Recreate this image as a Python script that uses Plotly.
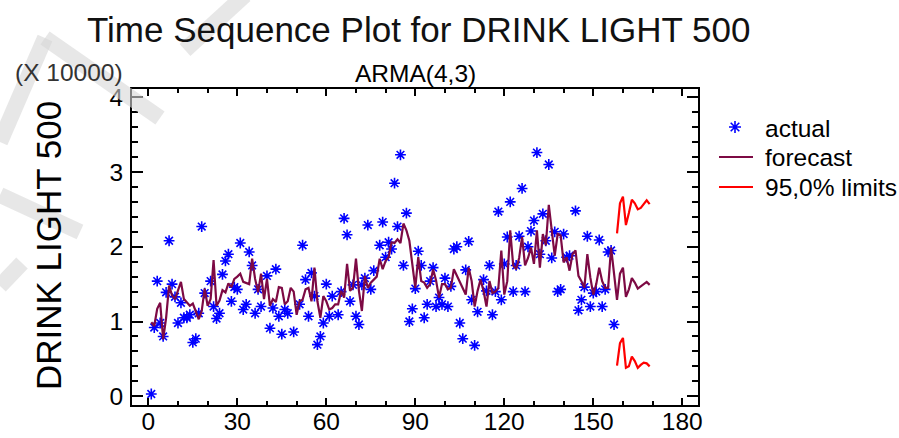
import plotly.graph_objects as go

# ---------------- data (values in units of 10000) ----------------
t_actual = list(range(1, 158))
actual = [
    0.03, 0.92, 1.54, 0.98, 0.80, 1.39, 2.08, 1.50, 1.33, 0.98,
    1.25, 1.05, 1.05, 1.09, 0.72, 0.77, 1.11, 2.27, 1.38, None,
    1.54, 1.20, 1.04, 1.11, 1.63, 1.81, 1.90, 1.27, 1.46, 1.43,
    2.05, 1.16, 1.23, 1.93, 1.75, 1.11, 1.43, 1.20, None, 1.61,
    0.91, 1.18, 1.70, 1.07, 0.83, 1.16, 1.11, None, 0.86, None,
    1.23, 2.02, 1.56, 1.07, 1.65, 1.34, 0.69, 0.80, 0.98, 1.50,
    1.07, 1.34, None, 1.09, 1.40, 2.38, 2.16, 1.27, 1.49, 1.07,
    0.96, 1.49, 1.58, 2.29, 1.43, 1.68, None, 2.02, 2.33, 1.86,
    2.06, 1.97, 2.85, 2.27, 3.23, 1.75, 2.45, 1.00, 1.17, 1.44,
    1.94, 1.75, 1.05, 1.23, 1.54, 1.72, 1.20, 1.32, 1.23, 1.58,
    1.20, 1.47, 1.97, 2.00, 0.98, 0.77, 1.69, 2.07, 1.29, 0.68,
    1.13, None, 1.56, 1.41, 1.75, 1.09, 1.40, 2.47, 1.29, 1.77,
    2.13, 2.60, 1.40, 1.75, 2.14, 2.78, 1.40, 2.00, 2.21, 2.35,
    3.26, 1.90, 2.44, 2.08, 3.10, 1.85, 2.20, 1.40, 1.43, 2.17,
    1.86, 1.88, None, 2.48, 1.15, 1.29, 1.46, 2.14, 1.20, 1.38,
    1.40, 2.09, 1.20, 1.43, 1.93, 1.95, 0.96,
]

t_forecast = list(range(1, 170))
forecast = [
    0.99, 0.94, 1.17, 1.25, 0.76, 1.05, 1.48, 1.35, 1.30, 1.42,
    1.53, 1.30, 1.26, 1.21, 1.24, 1.12, 1.03, 1.14, 1.44, 1.21,
    1.30, 1.82, 1.21, 1.28, 1.42, 1.39, 1.51, 1.46, 1.57, 1.60,
    1.64, 1.53, 1.51, 1.50, 1.84, 1.57, 1.39, 1.64, 1.30, 1.57,
    1.21, 1.30, 1.26, 1.46, 1.45, 1.23, 1.27, 1.45, 1.40, 1.09,
    1.27, 1.29, 1.43, 1.45, 1.27, 1.72, 1.27, 1.05, 1.34, 1.27,
    1.16, 1.18, 1.23, 1.23, 1.41, 1.32, 1.77, 1.41, 1.45, 1.84,
    1.41, 1.14, 1.61, 1.45, 1.52, 1.56, 1.60, 1.84, 1.70, 1.81,
    1.86, 2.06, 2.05, 2.10, 2.05, 2.31, 2.22, 2.08, 1.75, 1.45,
    1.86, 1.54, 1.52, 1.45, 1.50, 1.70, 1.55, 1.32, 1.50, 1.50,
    1.43, 1.45, 1.70, 1.61, 1.52, 1.45, 1.36, 1.72, 1.54, 1.20,
    1.41, 1.56, 1.41, 1.20, 1.54, 1.38, 1.40, 1.45, 1.95, 1.36,
    1.54, 2.22, 1.75, 1.70, 1.85, 2.13, 1.75, 1.85, 1.99, 1.77,
    2.22, 1.72, 2.17, 2.02, 2.56, 2.22, 1.88, 2.17, 2.15, 1.79,
    1.86, 1.68, 1.90, 1.95, 1.61, 1.54, 1.45, 1.90, 1.59, 1.36,
    1.50, 1.72, 1.54, 1.45, 1.45, 1.99, 1.60, 1.29, 1.64, 1.72,
    1.33, 1.43, 1.58, 1.52, 1.44, 1.47, 1.51, 1.53, 1.49,
]

t_limits = list(range(158, 170))
upper = [2.18, 2.58, 2.67, 2.29, 2.45, 2.63, 2.58, 2.50, 2.52, 2.57, 2.62, 2.57]
lower = [0.41, 0.71, 0.78, 0.38, 0.40, 0.53, 0.47, 0.38, 0.42, 0.45, 0.44, 0.40]

x_ticks = [0, 30, 60, 90, 120, 150, 180]
y_ticks = [0, 1, 2, 3, 4]
y_ticktext = ["0", "1", "2", "3", "4"]

title_text = "Time Sequence Plot for DRINK LIGHT 500"
subtitle_text = "ARMA(4,3)"
scale_text = "(X 10000)"
ytitle_text = "DRINK LIGHT 500"
legend_names = ["actual", "forecast", "95,0% limits"]

# ---------------- styling ----------------
W, H = 899, 438
L, R, T, B = 132, 698, 89, 405          # plot frame in pixels
FONT = "Liberation Sans, Arial, sans-serif"
BLUE = "#0000ff"
MAROON = "#7d0a44"
RED = "#ff0000"

def px(x):
    return (x - L) / (R - L)

def py(y):
    return (B - y) / (B - T)

fig = go.Figure()
fig.add_trace(go.Scatter(
    x=t_actual, y=actual, mode="markers", name=legend_names[0],
    marker=dict(symbol="asterisk-open", size=9, color=BLUE,
                line=dict(color=BLUE, width=1.6)),
    showlegend=False))
fig.add_trace(go.Scatter(
    x=t_forecast, y=forecast, mode="lines", name=legend_names[1],
    line=dict(color=MAROON, width=2.2), showlegend=False))
fig.add_trace(go.Scatter(
    x=t_limits, y=upper, mode="lines", name=legend_names[2],
    line=dict(color=RED, width=2.2), showlegend=False))
fig.add_trace(go.Scatter(
    x=t_limits, y=lower, mode="lines", name=legend_names[2],
    line=dict(color=RED, width=2.2), showlegend=False))

axis_common = dict(
    showgrid=False, zeroline=False, showline=True, linewidth=2,
    linecolor="black", mirror="ticks", ticks="inside", tickcolor="black",
    tickwidth=1.5, automargin=False,
    tickfont=dict(family=FONT, size=24.5, color="black"),
)
fig.update_xaxes(range=[-5.5, 185.3], tickvals=x_ticks, ticklen=7,
                 minor=dict(dtick=10, tick0=0, ticks="inside", ticklen=4,
                            tickwidth=1.5, tickcolor="black"),
                 ticklabelstandoff=-6, **axis_common)
fig.update_yaxes(range=[-0.117, 4.11], tickvals=y_ticks, ticktext=y_ticktext,
                 ticklen=11,
                 minor=dict(dtick=0.2, tick0=0, ticks="inside", ticklen=6,
                            tickwidth=1.5, tickcolor="black"),
                 ticklabelstandoff=2, **axis_common)

annotations = [
    dict(text=title_text, x=px(418), y=py(29.5), xanchor="center", yanchor="middle",
         font=dict(family=FONT, size=35, color="#111111")),
    dict(text=subtitle_text, x=px(415), y=py(74), xanchor="center", yanchor="middle",
         font=dict(family=FONT, size=24.5, color="black")),
    dict(text=scale_text, x=px(13), y=py(73), xanchor="left", yanchor="middle",
         font=dict(family=FONT, size=24.5, color="#333333")),
    dict(text=ytitle_text, x=px(48), y=py(246), xanchor="center", yanchor="middle",
         textangle=-90, font=dict(family=FONT, size=35, color="black")),
]
for name, yy in zip(legend_names, [128, 157, 187]):
    annotations.append(dict(text=name, x=px(763), y=py(yy), xanchor="left",
                            yanchor="middle",
                            font=dict(family=FONT, size=24.5, color="black")))
for a in annotations:
    a.update(xref="paper", yref="paper", showarrow=False)

shapes = []
# legend line keys
shapes.append(dict(type="line", xref="paper", yref="paper", x0=px(719), x1=px(753),
                   y0=py(157), y1=py(157), line=dict(color=MAROON, width=2.2)))
shapes.append(dict(type="line", xref="paper", yref="paper", x0=px(719), x1=px(753),
                   y0=py(187), y1=py(187), line=dict(color=RED, width=2.2)))
# legend asterisk key
cx, cy, r1, r2 = 735, 127, 6.0, 4.3
segs = [((cx, cy - r1), (cx, cy + r1)), ((cx - r1, cy), (cx + r1, cy)),
        ((cx - r2, cy - r2), (cx + r2, cy + r2)), ((cx - r2, cy + r2), (cx + r2, cy - r2))]
path = " ".join(f"M{px(a[0]):.5f},{py(a[1]):.5f} L{px(b[0]):.5f},{py(b[1]):.5f}" for a, b in segs)
shapes.append(dict(type="path", xref="paper", yref="paper", path=path,
                   line=dict(color=BLUE, width=1.6)))
# faint watermark bands (top-left)
wm = [((0, 142), (45, 38)), ((45, 38), (160, 118)), ((245, -5), (185, 50)),
      ((0, 195), (80, 232)), ((0, 286), (22, 263))]
for (a, b) in wm:
    shapes.append(dict(type="line", xref="paper", yref="paper", layer="above",
                       x0=px(a[0]), y0=py(a[1]), x1=px(b[0]), y1=py(b[1]),
                       line=dict(color="rgba(215,215,215,0.6)", width=16)))

fig.update_layout(
    width=W, height=H, autosize=False,
    margin=dict(l=L, r=W - R, t=T, b=H - B, pad=0),
    paper_bgcolor="white", plot_bgcolor="white",
    annotations=annotations, shapes=shapes, showlegend=False,
)

fig.write_html("out.html")
